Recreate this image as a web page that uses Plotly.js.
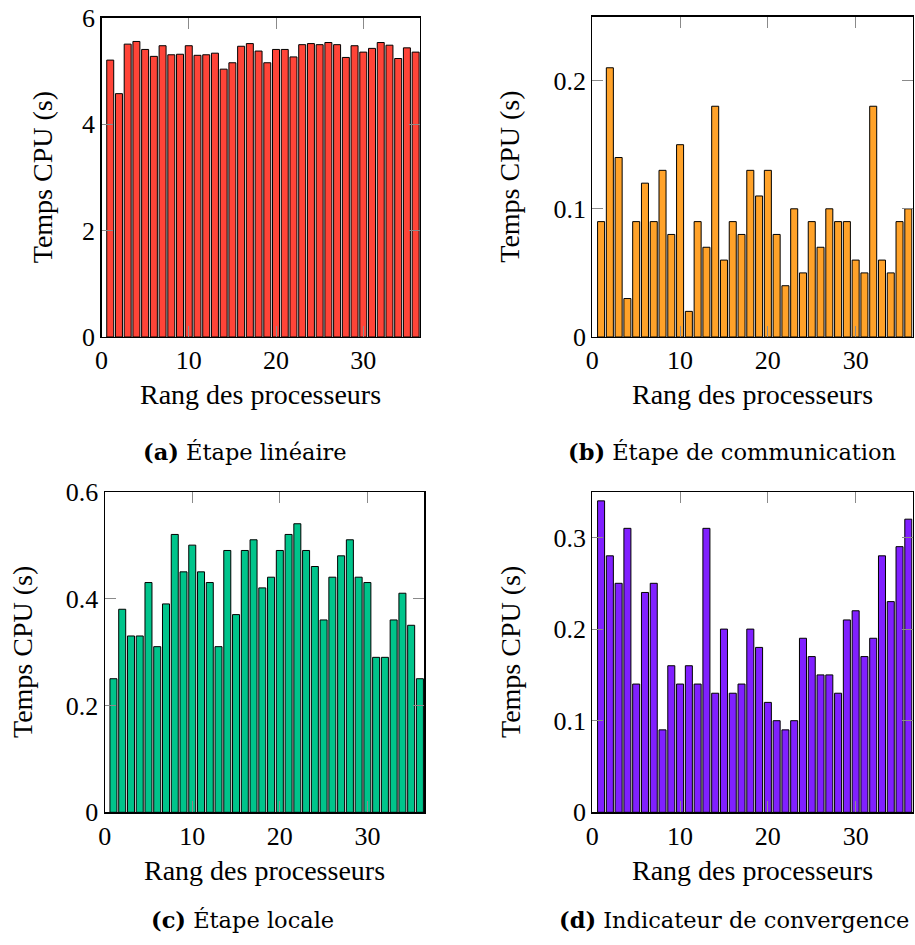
<!DOCTYPE html>
<html>
<head>
<meta charset="utf-8">
<script src="https://cdn.plot.ly/plotly-3.0.1.min.js"></script>
<style>html,body{margin:0;padding:0;background:#fff;}#chart{width:915px;height:945px;}</style>
</head>
<body>
<div id="chart"></div>
<script>
// ---- data ----
const ranks = Array.from({length: 36}, (_, i) => i + 1);
const lineaire = [5.20, 4.57, 5.50, 5.55, 5.40, 5.27, 5.47, 5.30, 5.31, 5.47, 5.29, 5.30, 5.33, 5.03, 5.15, 5.46, 5.51, 5.37, 5.15, 5.40, 5.40, 5.26, 5.49, 5.51, 5.49, 5.53, 5.49, 5.25, 5.47, 5.35, 5.42, 5.53, 5.48, 5.23, 5.43, 5.35];
const communication = [0.09, 0.21, 0.14, 0.03, 0.09, 0.12, 0.09, 0.13, 0.08, 0.15, 0.02, 0.09, 0.07, 0.18, 0.06, 0.09, 0.08, 0.13, 0.11, 0.13, 0.08, 0.04, 0.10, 0.05, 0.09, 0.07, 0.10, 0.09, 0.09, 0.06, 0.05, 0.18, 0.06, 0.05, 0.09, 0.10];
const locale = [0.25, 0.38, 0.33, 0.33, 0.43, 0.31, 0.39, 0.52, 0.45, 0.50, 0.45, 0.43, 0.31, 0.49, 0.37, 0.49, 0.51, 0.42, 0.44, 0.49, 0.52, 0.54, 0.49, 0.46, 0.36, 0.44, 0.48, 0.51, 0.44, 0.43, 0.29, 0.29, 0.36, 0.41, 0.35, 0.25];
const convergence = [0.34, 0.28, 0.25, 0.31, 0.14, 0.24, 0.25, 0.09, 0.16, 0.14, 0.16, 0.14, 0.31, 0.13, 0.20, 0.13, 0.14, 0.20, 0.18, 0.12, 0.10, 0.09, 0.10, 0.19, 0.17, 0.15, 0.15, 0.13, 0.21, 0.22, 0.17, 0.19, 0.28, 0.23, 0.29, 0.32];
const xTicks = [0, 10, 20, 30];
const yTicksA = [0, 2, 4, 6];
const yTicksB = [0, 0.1, 0.2];
const yTicksC = [0, 0.2, 0.4, 0.6];
const yTicksD = [0, 0.1, 0.2, 0.3];
const xTitle = "Rang des processeurs";
const yTitle = "Temps CPU (s)";
const captions = ["<b>(a)</b> Étape linéaire", "<b>(b)</b> Étape de communication", "<b>(c)</b> Étape locale", "<b>(d)</b> Indicateur de convergence"];

// ---- layout helpers (pixels -> paper) ----
const W = 915, H = 945;
const px = v => v / W;
const py = v => 1 - v / H;

const panels = [
  {x0: 101.5, x1: 420, y0: 17.5, y1: 337, yr: [0, 6], yt: yTicksA, data: lineaire, color: "#FF4438", ytx: 42, cap: [245, 452]},
  {x0: 592.3, x1: 912.7, y0: 16.5, y1: 337, yr: [0, 0.25], yt: yTicksB, data: communication, color: "#FFA229", ytx: 510, cap: [732, 452]},
  {x0: 104.7, x1: 424.3, y0: 491.7, y1: 812.3, yr: [0, 0.6], yt: yTicksC, data: locale, color: "#00C48B", ytx: 22, cap: [243, 920]},
  {x0: 592.3, x1: 912.7, y0: 491.7, y1: 812.3, yr: [0, 0.35], yt: yTicksD, data: convergence, color: "#8020FF", ytx: 510, cap: [734, 920]}
];

const serif = "'Liberation Serif', 'Times New Roman', serif";
const tickFont = {family: serif, size: 26, color: "#000"};
const titleFont = {family: serif, size: 28, color: "#000"};
const capFont = {family: "'DejaVu Serif', serif", size: 22.5, color: "#000"};

const traces = [];
const layout = {
  width: W, height: H,
  margin: {l: 0, r: 0, t: 0, b: 0},
  paper_bgcolor: "#fff", plot_bgcolor: "#fff",
  showlegend: false,
  annotations: []
};

panels.forEach((p, i) => {
  const n = i === 0 ? "" : String(i + 1);
  traces.push({
    type: "bar", x: ranks, y: p.data,
    xaxis: "x" + n, yaxis: "y" + n,
    width: 0.8,
    marker: {color: p.color, line: {color: "#000", width: 1}},
    hoverinfo: "x+y"
  });
  const common = {
    showgrid: false, zeroline: false,
    showline: true, linecolor: "#000", linewidth: 1.2, mirror: "allticks",
    ticks: "inside", ticklen: 11, tickcolor: "#8a8a8a", tickwidth: 1,
    tickfont: tickFont, fixedrange: true
  };
  layout["xaxis" + n] = Object.assign({}, common, {
    domain: [px(p.x0), px(p.x1)], range: [0, 36.5],
    tickmode: "array", tickvals: xTicks, anchor: "y" + n
  });
  layout["yaxis" + n] = Object.assign({}, common, {
    domain: [py(p.y1), py(p.y0)], range: p.yr,
    tickmode: "array", tickvals: p.yt, anchor: "x" + n
  });
  layout.annotations.push({
    xref: "paper", yref: "paper", x: px((p.x0 + p.x1) / 2), y: py(p.y1 + 58),
    text: xTitle, showarrow: false, font: titleFont, xanchor: "center", yanchor: "middle"
  });
  layout.annotations.push({
    xref: "paper", yref: "paper", x: px(p.ytx), y: py((p.y0 + p.y1) / 2),
    text: yTitle, textangle: -90, showarrow: false, font: titleFont, xanchor: "center", yanchor: "middle"
  });
  layout.annotations.push({
    xref: "paper", yref: "paper", x: px(p.cap[0]), y: py(p.cap[1]),
    text: captions[i], showarrow: false, font: capFont, xanchor: "center", yanchor: "middle"
  });
});

Plotly.newPlot("chart", traces, layout, {displayModeBar: false, staticPlot: true});
</script>
</body>
</html>
